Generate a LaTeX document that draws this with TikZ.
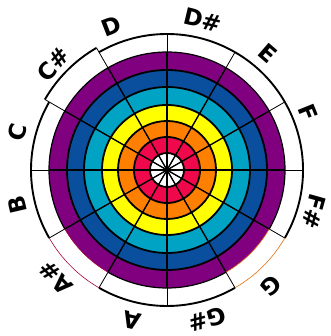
\documentclass[tikz,border=0pt]{standalone}
\usepackage{fontspec}
\setmainfont{DejaVu Sans}
\usepackage{tikz}
\definecolor{NoteRed}{HTML}{F0084C}
\definecolor{NoteOrange}{HTML}{FF8000}
\definecolor{NoteYellow}{HTML}{FFFF00}
\definecolor{NoteCyan}{HTML}{00A3C4}
\definecolor{NoteBlue}{HTML}{0A4E9E}
\definecolor{NotePurple}{HTML}{800080}
\definecolor{NoteEdge}{HTML}{E07010}

\begin{document}
\begin{tikzpicture}[x=1pt,y=1pt,
  ring/.style={line width=1.8pt},
  rim/.style={line width=1.9pt},
  spoke/.style={line width=1.3pt},
  thinspoke/.style={line width=.8pt},
  edge/.style={NoteEdge,line width=.6pt},
  note/.style={font=\fontsize{23}{23}\selectfont\bfseries,inner sep=0pt}]
\path[use as bounding box] (0,0) rectangle (330,336);
\fill[white] (0,0) rectangle (330,336);
\begin{scope}[shift={(167,166)}]
\coordinate (c) at (0,0);
% rings, outside in
\fill[white] (c) circle (136);
\fill[white] (120:118) -- (120:141) arc[start angle=120,end angle=150,radius=141] -- (150:118) -- cycle;
\fill[NotePurple] (c) circle (118);
\fill[NoteBlue] (c) circle (100);
\fill[NoteCyan] (c) circle (83);
\fill[NoteYellow] (c) circle (65);
\fill[NoteOrange] (c) circle (49);
\fill[NoteRed] (c) circle (33);
\fill[white] (c) circle (17);
\draw[ring] (c) circle (17);
\draw[ring] (c) circle (33);
\draw[ring] (c) circle (49);
\draw[ring] (c) circle (65);
\draw[ring] (c) circle (83);
\draw[ring] (c) circle (100);
\draw[line width=1.2pt] (-30:118) arc[start angle=-30,end angle=210,radius=118];
\draw[line width=1.2pt] (240:118) arc[start angle=240,end angle=300,radius=118];
% spokes
\draw[thinspoke] (0:136) -- (180:136);
\draw[thinspoke] (30:136) -- (210:136);
\draw[thinspoke] (60:136) -- (240:136);
\draw[thinspoke] (90:136) -- (270:136);
\draw[thinspoke] (120:141) -- (300:136);
\draw[thinspoke] (150:141) -- (330:136);
\draw[spoke] (0:118) -- (180:118);
\draw[spoke] (30:118) -- (210:118);
\draw[spoke] (60:118) -- (240:118);
\draw[spoke] (90:118) -- (270:118);
\draw[spoke] (120:118) -- (300:118);
\draw[spoke] (150:118) -- (330:118);
% outer rim
\draw[rim] (-30:136) arc[start angle=-30,end angle=120,radius=136];
\draw[rim] (120:141) arc[start angle=120,end angle=150,radius=141];
\draw[rim] (150:136) arc[start angle=150,end angle=210,radius=136];
\draw[rim] (240:136) arc[start angle=240,end angle=300,radius=136];
\draw[edge] (300:118) arc[start angle=300,end angle=330,radius=118];
\draw[edge] (300:136) arc[start angle=300,end angle=330,radius=136];
\draw[edge,NoteRed!70!black] (210:118) arc[start angle=210,end angle=240,radius=118];
\draw[edge,NoteRed!70!black] (210:136) arc[start angle=210,end angle=240,radius=136];
% note names
\node[note,rotate=21] (nD) at (111:154) {D};
\node[note,rotate=-13.5] (nDs) at (76.5:154) {D\#};
\node[note,rotate=-41] (nE) at (49:154) {E};
\node[note,rotate=-68] (nF) at (22:152) {F};
\node[note,rotate=-105.6] (nFs) at (-15.6:153) {F\#};
\node[note,rotate=-138] (nG) at (-48:156) {G};
\node[note,rotate=-165] (nGs) at (-75:155) {G\#};
\node[note,rotate=167] (nA) at (-103:155) {A};
\node[note,rotate=134] (nAs) at (-136:155) {A\#};
\node[note,rotate=103] (nB) at (-167:154) {B};
\node[note,rotate=76] (nC) at (166:154) {C};
\node[note,rotate=47] (nCs) at (137:155) {C\#};
\end{scope}
\end{tikzpicture}
\end{document}
